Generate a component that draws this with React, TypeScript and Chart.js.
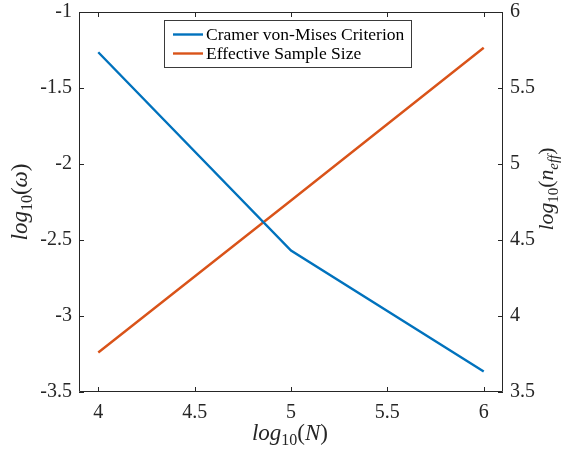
import React, { useEffect, useRef } from "react";
import { Chart, registerables } from "chart.js";
Chart.register(...registerables);

const xValues = [4, 5, 6];
const cramerValues = [-1.265, -2.57, -3.365];
const essValues = [3.76, 4.76, 5.765];
const xTicks = [4, 4.5, 5, 5.5, 6];
const leftTicks = [-3.5, -3, -2.5, -2, -1.5, -1];
const rightTicks = [3.5, 4, 4.5, 5, 5.5, 6];
const seriesLabels = ["Cramer von-Mises Criterion", "Effective Sample Size"];
const seriesColors = ["#0072BD", "#D95319"];

type Seg = { t: string; it?: boolean; sub?: boolean };
const xTitle: Seg[] = [{ t: "log", it: true }, { t: "10", sub: true }, { t: "(" }, { t: "N", it: true }, { t: ")" }];
const leftTitle: Seg[] = [{ t: "log", it: true }, { t: "10", sub: true }, { t: "(" }, { t: "ω", it: true }, { t: ")" }];
const rightTitle: Seg[] = [
  { t: "log", it: true },
  { t: "10", sub: true },
  { t: "(" },
  { t: "n", it: true },
  { t: "eff", it: true, sub: true },
  { t: ")" },
];

const AXIS = "#262626";
const FONT = "'Liberation Serif', 'Times New Roman', serif";

function segFont(s: Seg, scale: number) {
  const size = (s.sub ? 16 : 23) * scale;
  return `${s.it ? "italic " : ""}${size}px ${FONT}`;
}

function drawRich(ctx: CanvasRenderingContext2D, segs: Seg[], cx: number, cy: number, rot: number, scale = 1) {
  ctx.save();
  let w = 0;
  const widths = segs.map((s) => {
    ctx.font = segFont(s, scale);
    const m = ctx.measureText(s.t).width;
    w += m;
    return m;
  });
  ctx.translate(cx, cy);
  ctx.rotate(rot);
  ctx.fillStyle = AXIS;
  ctx.textBaseline = "alphabetic";
  ctx.textAlign = "left";
  let x = -w / 2;
  segs.forEach((s, i) => {
    ctx.font = segFont(s, scale);
    ctx.fillText(s.t, x, s.sub ? 11 : 6);
    x += widths[i];
  });
  ctx.restore();
}

const decorPlugin = {
  id: "decor",
  afterDraw(chart: any) {
    const ctx: CanvasRenderingContext2D = chart.ctx;
    const { left, right, top, bottom } = chart.chartArea;
    const xs = chart.scales.x;
    const yl = chart.scales.y;
    const yr = chart.scales.y2;
    ctx.save();
    ctx.strokeStyle = AXIS;
    ctx.lineWidth = 1;
    ctx.beginPath();
    ctx.moveTo(left + 0.5, top + 0.5);
    ctx.lineTo(right - 0.5, top + 0.5);
    ctx.lineTo(right - 0.5, bottom - 0.5);
    ctx.lineTo(left + 0.5, bottom - 0.5);
    ctx.closePath();
    const TL = 5;
    xTicks.forEach((v) => {
      const p = Math.round(xs.getPixelForValue(v)) + 0.5;
      ctx.moveTo(p, bottom);
      ctx.lineTo(p, bottom - TL);
      ctx.moveTo(p, top);
      ctx.lineTo(p, top + TL);
    });
    leftTicks.forEach((v) => {
      const p = Math.round(yl.getPixelForValue(v)) + 0.5;
      ctx.moveTo(left, p);
      ctx.lineTo(left + TL, p);
    });
    rightTicks.forEach((v) => {
      const p = Math.round(yr.getPixelForValue(v)) + 0.5;
      ctx.moveTo(right, p);
      ctx.lineTo(right - TL, p);
    });
    ctx.stroke();

    // legend
    const lx = 164.5, ly = 20.5, lw = 247, lh = 47;
    ctx.fillStyle = "#ffffff";
    ctx.fillRect(lx, ly, lw, lh);
    ctx.strokeStyle = "#3a3a3a";
    ctx.lineWidth = 1;
    ctx.strokeRect(lx, ly, lw, lh);
    ctx.font = `17.5px ${FONT}`;
    ctx.textBaseline = "middle";
    ctx.textAlign = "left";
    chart.data.datasets.forEach((ds: any, i: number) => {
      const yy = 34.5 + i * 19;
      ctx.strokeStyle = ds.borderColor;
      ctx.lineWidth = 2.4;
      ctx.beginPath();
      ctx.moveTo(173, yy);
      ctx.lineTo(203, yy);
      ctx.stroke();
      ctx.fillStyle = "#000000";
      ctx.fillText(ds.label, 206, yy + 1);
    });
    ctx.restore();

    drawRich(ctx, xTitle, 290, 434, 0);
    drawRich(ctx, leftTitle, 21, 202, -Math.PI / 2);
    drawRich(ctx, rightTitle, 547, 189, -Math.PI / 2, 0.94);
  },
};

export default function App() {
  const ref = useRef<HTMLCanvasElement>(null);
  useEffect(() => {
    document.body.style.margin = "0";
    const tickFont = { family: FONT, size: 20 };
    const grid = { display: false, drawTicks: false, tickLength: 0 };
    const chart = new Chart(ref.current!, {
      type: "line",
      data: {
        datasets: [
          {
            label: seriesLabels[0],
            data: xValues.map((x, i) => ({ x, y: cramerValues[i] })),
            borderColor: seriesColors[0],
            backgroundColor: seriesColors[0],
            borderWidth: 2.4,
            pointRadius: 0,
            tension: 0,
            yAxisID: "y",
          },
          {
            label: seriesLabels[1],
            data: xValues.map((x, i) => ({ x, y: essValues[i] })),
            borderColor: seriesColors[1],
            backgroundColor: seriesColors[1],
            borderWidth: 2.4,
            pointRadius: 0,
            tension: 0,
            yAxisID: "y2",
          },
        ],
      },
      options: {
        responsive: false,
        animation: false,
        devicePixelRatio: 1,
        layout: { padding: { top: 12, left: 0, right: 0, bottom: 0 } },
        plugins: { legend: { display: false }, tooltip: { enabled: false } },
        scales: {
          x: {
            type: "linear",
            min: 3.9,
            max: 6.1,
            grid,
            border: { display: false },
            ticks: { font: tickFont, color: AXIS, padding: 9, maxRotation: 0, callback: (v: any) => String(v) },
            afterBuildTicks: (s: any) => {
              s.ticks = xTicks.map((v) => ({ value: v }));
            },
            afterFit: (s: any) => {
              s.height = 58;
              s.paddingLeft = 0;
              s.paddingRight = 0;
            },
          },
          y: {
            type: "linear",
            position: "left",
            min: -3.5,
            max: -1,
            grid,
            border: { display: false },
            ticks: { font: tickFont, color: AXIS, padding: 7, callback: (v: any) => String(v) },
            afterBuildTicks: (s: any) => {
              s.ticks = leftTicks.map((v) => ({ value: v }));
            },
            afterFit: (s: any) => {
              s.width = 79;
              s.paddingTop = 0;
              s.paddingBottom = 0;
            },
          },
          y2: {
            type: "linear",
            position: "right",
            min: 3.5,
            max: 6,
            grid,
            border: { display: false },
            ticks: { font: tickFont, color: AXIS, padding: 7, callback: (v: any) => String(v) },
            afterBuildTicks: (s: any) => {
              s.ticks = rightTicks.map((v) => ({ value: v }));
            },
            afterFit: (s: any) => {
              s.width = 58;
              s.paddingTop = 0;
              s.paddingBottom = 0;
            },
          },
        },
      },
      plugins: [decorPlugin],
    } as any);
    return () => chart.destroy();
  }, []);
  return <canvas ref={ref} width={561} height={450} style={{ display: "block" }} />;
}
